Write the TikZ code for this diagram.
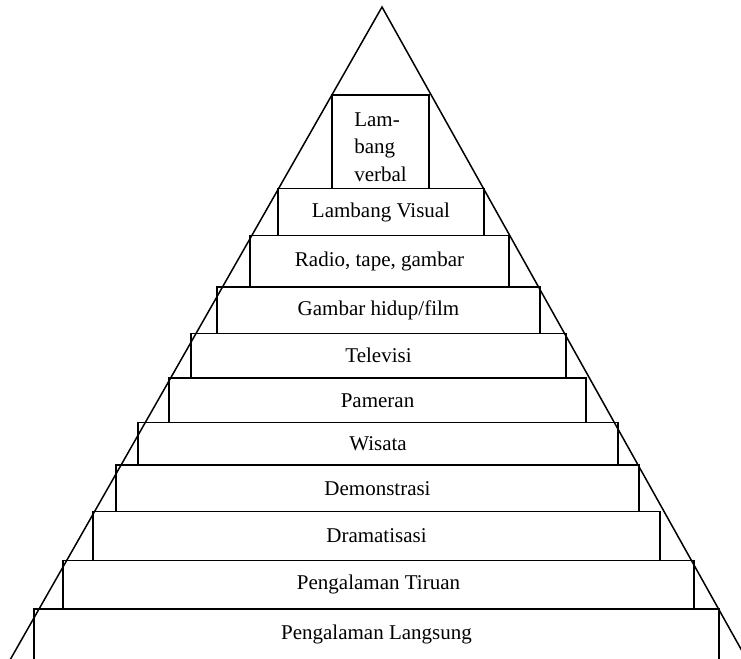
\documentclass[tikz,border=0pt]{standalone}
\usepackage{fontspec}
\setmainfont{Liberation Serif}
\usetikzlibrary{positioning}

\begin{document}
\begin{tikzpicture}[x=0.6pt,y=-0.6pt,
    level/.style={
      % The shape:
      rectangle,inner sep=0pt,
      % Border
      line width=1pt,draw=black,
      font=\fontsize{12.6}{16.5}\selectfont
      }]
  \useasboundingbox (0,0) rectangle (741,658);
  \clip (0,0) rectangle (741,658);
  \coordinate (apex) at (382,7);
  \coordinate (left-foot) at (6,667);
  \coordinate (right-foot) at (751,667);
  \draw [line width=0.9pt] (left-foot) -- (apex) -- (right-foot);
  \node (verbal) [level, minimum width=58.2pt, minimum height=56.1pt] at (380.5,141.75) {};
  \node (verbal-text) [font=\fontsize{12.6}{16.5}\selectfont, align=left, inner sep=0pt]
    at ([yshift=-3pt]verbal.center) {Lam-\\bang\\verbal};
  \node (visual) [level, minimum width=123.6pt, minimum height=28.2pt] at (381,212) {Lambang Visual};
  \node (radio) [level, minimum width=155.4pt, minimum height=30.9pt] at (379.5,261.25) {Radio, tape, gambar};
  \node (film) [level, minimum width=193.8pt, minimum height=27.9pt] at (378.5,310.25) {Gambar hidup/film};
  \node (tv) [level, minimum width=225pt, minimum height=26.7pt] at (378.5,355.75) {Televisi};
  \node (pameran) [level, minimum width=250.2pt, minimum height=26.7pt] at (377.5,400.25) {Pameran};
  \node (wisata) [level, minimum width=288pt, minimum height=25.5pt] at (378,443.75) {Wisata};
  \node (demo) [level, minimum width=313.8pt, minimum height=27.9pt] at (377.5,488.25) {Demonstrasi};
  \node (drama) [level, minimum width=340.2pt, minimum height=29.4pt] at (376.5,536) {Dramatisasi};
  \node (tiruan) [level, minimum width=378.6pt, minimum height=29.1pt] at (378.5,584.75) {Pengalaman Tiruan};
  \node (langsung) [level, minimum width=411pt, minimum height=30.6pt] at (376.5,634.5) {Pengalaman Langsung};
  \end{tikzpicture}
\end{document}
